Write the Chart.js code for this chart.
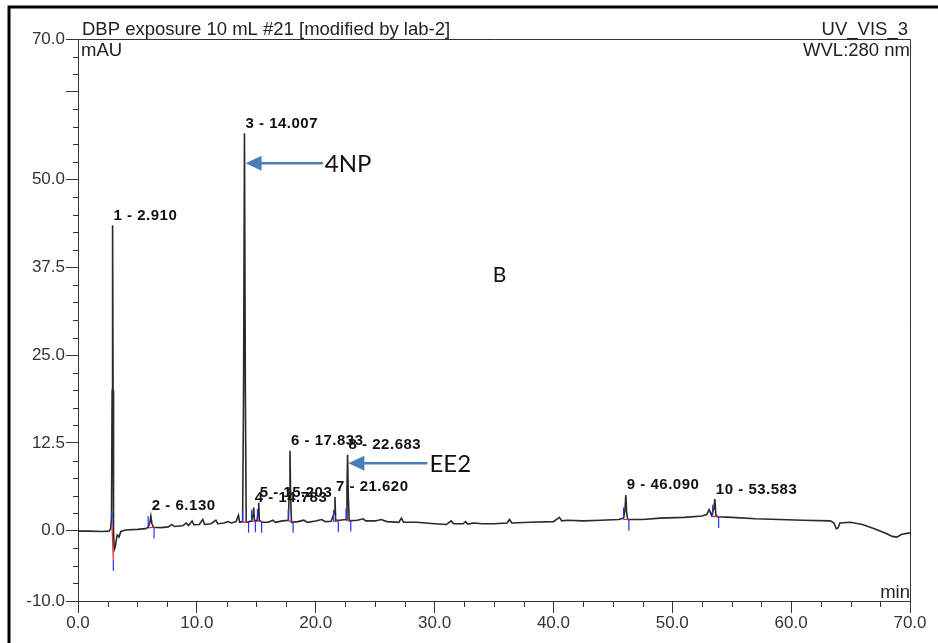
<!DOCTYPE html>
<html>
<head>
<meta charset="utf-8">
<script src="https://cdn.jsdelivr.net/npm/chart.js@4"></script>
<style>
  body { margin: 0; background: #fff; }
  canvas { display: block; }
</style>
</head>
<body>
<canvas id="chromatogram" width="938" height="643"></canvas>
<script>
// chromatogram trace (min, mAU)
const traceTimes = [
  0.0, 1.0, 2.0, 2.6, 2.75, 2.82, 2.87, 2.91, 2.95, 2.99, 3.05, 3.12, 3.2, 3.3, 3.45, 3.6, 4.0, 5.0, 5.7, 5.9,
  6.05, 6.13, 6.22, 6.35, 7.0, 7.6, 7.9, 8.1, 8.8, 9.1, 9.3, 9.6, 9.75, 10.2, 10.5, 10.65, 11.2, 11.6, 11.75, 12.3,
  12.6, 12.9, 13.3, 13.5, 13.6, 13.85, 13.93, 14.007, 14.08, 14.15, 14.4, 14.6, 14.72, 14.783, 14.84, 15.05, 15.15, 15.203, 15.26, 15.5,
  16.0, 16.4, 16.6, 17.2, 17.7, 17.78, 17.833, 17.89, 17.96, 18.5, 19.0, 19.3, 20.0, 20.5, 20.8, 21.3, 21.55, 21.62, 21.68, 22.0,
  22.55, 22.63, 22.683, 22.74, 22.82, 23.5, 24.0, 24.2, 25.0, 25.5, 26.0, 27.0, 27.2, 27.4, 28.5, 30.0, 31.0, 31.4, 31.6, 32.4,
  32.6, 32.8, 33.3, 34.0, 35.0, 36.1, 36.3, 36.5, 38.0, 40.0, 40.5, 40.7, 41.2, 42.5, 44.0, 45.5, 45.9, 46.02, 46.09, 46.16,
  46.25, 47.5, 49.0, 51.0, 52.5, 52.9, 53.1, 53.3, 53.5, 53.583, 53.66, 53.8, 55.0, 57.0, 59.0, 61.0, 63.3, 63.6, 63.8, 63.95,
  64.1, 65.0, 66.0, 67.0, 68.0, 68.5, 68.9, 69.3, 70.0
];
const traceMau = [
  -0.05, -0.05, -0.1, -0.05, 0.3, 2.0, 20, 43.5, 20, 0, -2.7, -2.4, -1.5, -0.6, -0.9, -0.1, 0.1, 0.2, 0.3, 0.5,
  1.2, 2.1, 1.0, 0.5, 0.45, 0.55, 0.9, 0.6, 0.7, 1.1, 0.75, 1.4, 0.85, 0.9, 1.6, 0.9, 1.0, 1.5, 1.0, 1.1,
  1.3, 1.1, 1.3, 2.2, 1.2, 1.3, 20, 56.6, 20, 1.2, 1.3, 1.4, 2.2, 3.3, 1.5, 1.4, 2.5, 4.0, 1.5, 1.2,
  1.2, 1.5, 1.2, 1.4, 1.5, 6, 11.4, 5, 1.2, 1.3, 1.5, 1.2, 1.4, 1.6, 1.3, 1.35, 2.5, 4.8, 1.5, 1.5,
  1.6, 6, 10.8, 5, 1.4, 1.5, 1.7, 1.4, 1.4, 1.6, 1.3, 1.2, 1.8, 1.2, 1.2, 1.0, 0.9, 1.4, 1.0, 1.0,
  1.3, 0.95, 1.1, 1.0, 1.0, 1.1, 1.6, 1.1, 1.2, 1.3, 1.9, 1.4, 1.5, 1.4, 1.5, 1.6, 1.8, 3, 5.1, 2.5,
  1.6, 1.6, 1.8, 1.9, 2.1, 2.3, 3.0, 2.2, 3.2, 4.5, 2.3, 2.0, 1.9, 1.7, 1.6, 1.5, 1.4, 1.1, 0.3, 0.4,
  1.1, 1.2, 0.9, 0.3, -0.4, -0.8, -0.9, -0.5, -0.3
];

// labelled peaks
const peakTimes = [2.910, 6.130, 14.007, 14.783, 15.203, 17.833, 21.620, 22.683, 46.090, 53.583];
const peakHeights = [43.5, 2.1, 56.6, 3.3, 4.0, 11.4, 4.8, 10.8, 5.1, 4.5];

// integration marks: start/end time and baseline level at each
const intStart = [2.86, 5.9, 13.85, 14.6, 15.1, 17.7, 21.5, 22.55, 45.9, 53.4];
const intStartBase = [0.9, 0.4, 1.2, 1.3, 1.4, 1.4, 1.3, 1.5, 1.6, 2.0];
const intEnd = [2.97, 6.4, 14.35, 14.92, 15.45, 18.1, 21.9, 22.95, 46.35, 53.9];
const intEndBase = [-4.1, 0.5, 1.3, 1.4, 1.3, 1.3, 1.4, 1.5, 1.6, 2.0];

// hand-added notes
const noteText = ['4NP', 'EE2'];
const noteFrom = [20.6, 29.4];
const noteTo = [14.1, 22.75];
const noteLevel = [52.3, 9.6];

const yTickValues = [-10, -7.5, -5, -2.5, 0, 2.5, 5, 7.5, 10, 12.5, 15, 17.5, 20, 22.5, 25, 27.5, 30, 32.5, 35, 37.5, 40, 42.5, 45, 47.5, 50, 52.5, 55, 57.5, 60, 62.5, 65, 67.5, 70];
const yLabelled = [-10, 0, 12.5, 25, 37.5, 50, 70];
const yMajor = [-10, 0, 12.5, 25, 37.5, 50, 62.5, 70];
const xTickValues = [0, 2.5, 5, 7.5, 10, 12.5, 15, 17.5, 20, 22.5, 25, 27.5, 30, 32.5, 35, 37.5, 40, 42.5, 45, 47.5, 50, 52.5, 55, 57.5, 60, 62.5, 65, 67.5, 70];

const FONT = "'Liberation Sans', Arial, sans-serif";
const AXIS = '#333';

const tracePoints = traceTimes.map((t, i) => ({ x: t, y: traceMau[i] }));

const bluePoints = [];
const redPoints = [];
intStart.forEach((t, i) => {
  bluePoints.push({ x: t, y: intStartBase[i] }, { x: t, y: intStartBase[i] + 1.7 }, { x: t, y: null });
  bluePoints.push({ x: intEnd[i], y: intEndBase[i] }, { x: intEnd[i], y: intEndBase[i] - 1.6 }, { x: intEnd[i], y: null });
  redPoints.push({ x: t, y: intStartBase[i] }, { x: intEnd[i], y: intEndBase[i] }, { x: intEnd[i], y: null });
});

const decorPlugin = {
  id: 'decor',
  afterDraw(chart) {
    const ctx = chart.ctx;
    const xs = chart.scales.x, ys = chart.scales.y;
    const area = chart.chartArea;
    ctx.save();

    // outer frame
    ctx.strokeStyle = '#000';
    ctx.lineWidth = 3;
    ctx.strokeRect(9, 7, 940, 650);

    // top and right frame of plot
    ctx.strokeStyle = AXIS;
    ctx.lineWidth = 1;
    ctx.beginPath();
    ctx.moveTo(area.left, area.top + 0.5);
    ctx.lineTo(area.right + 0.5, area.top + 0.5);
    ctx.lineTo(area.right + 0.5, area.bottom);
    ctx.stroke();

    // minor ticks
    ctx.beginPath();
    yTickValues.forEach(v => {
      if (yMajor.includes(v)) return;
      const py = Math.round(ys.getPixelForValue(v)) + 0.5;
      ctx.moveTo(area.left - 5, py);
      ctx.lineTo(area.left, py);
    });
    xTickValues.forEach(v => {
      if (v % 10 === 0) return;
      const px = Math.round(xs.getPixelForValue(v)) + 0.5;
      ctx.moveTo(px, area.bottom);
      ctx.lineTo(px, area.bottom + 6);
    });
    ctx.stroke();

    // header texts
    ctx.fillStyle = '#222';
    ctx.font = '18.5px ' + FONT;
    ctx.textBaseline = 'alphabetic';
    ctx.textAlign = 'left';
    ctx.fillText('DBP exposure 10 mL #21 [modified by lab-2]', 82, 35);
    ctx.fillText('mAU', 81, 56);
    ctx.textAlign = 'right';
    ctx.fillText('UV_VIS_3', 908, 35);
    ctx.fillText('WVL:280 nm', 910, 56);
    ctx.fillText('min', 910, 598);

    // peak labels
    ctx.textAlign = 'left';
    ctx.font = 'bold 15px ' + FONT;
    ctx.letterSpacing = '0.5px';
    ctx.fillStyle = '#111';
    peakTimes.forEach((t, i) => {
      const px = xs.getPixelForValue(t) + 1;
      const py = ys.getPixelForValue(peakHeights[i] + 0.8);
      ctx.fillText((i + 1) + ' - ' + t.toFixed(3), px, py);
    });
    ctx.letterSpacing = '0px';

    // arrows with notes
    ctx.strokeStyle = '#4a7ebb';
    ctx.fillStyle = '#4a7ebb';
    ctx.lineWidth = 2.5;
    noteText.forEach((txt, i) => {
      const x0 = xs.getPixelForValue(noteFrom[i]);
      const x1 = xs.getPixelForValue(noteTo[i]);
      const py = ys.getPixelForValue(noteLevel[i]);
      ctx.beginPath();
      ctx.moveTo(x0, py);
      ctx.lineTo(x1 + 14, py);
      ctx.stroke();
      ctx.beginPath();
      ctx.moveTo(x1, py);
      ctx.lineTo(x1 + 16, py - 7.5);
      ctx.lineTo(x1 + 16, py + 7.5);
      ctx.closePath();
      ctx.fill();
    });
    ctx.fillStyle = '#111';
    ctx.font = '24px Lato, sans-serif';
    ctx.textBaseline = 'middle';
    noteText.forEach((txt, i) => {
      ctx.fillText(txt, xs.getPixelForValue(noteFrom[i]) + 2, ys.getPixelForValue(noteLevel[i]) + 1);
    });
    ctx.font = '21px Lato, sans-serif';
    ctx.fillText('B', xs.getPixelForValue(34.9), ys.getPixelForValue(36.4));

    ctx.restore();
  }
};

new Chart(document.getElementById('chromatogram'), {
  type: 'line',
  data: {
    datasets: [
      {
        data: tracePoints,
        borderColor: '#2a2a2a',
        borderWidth: 1.6,
        pointRadius: 0,
        tension: 0,
        order: 2
      },
      {
        data: redPoints,
        borderColor: '#e8261c',
        borderWidth: 1.2,
        pointRadius: 0,
        spanGaps: false,
        order: 1
      },
      {
        data: bluePoints,
        borderColor: '#2233ee',
        borderWidth: 1.2,
        pointRadius: 0,
        spanGaps: false,
        order: 0
      }
    ]
  },
  options: {
    responsive: false,
    animation: false,
    events: [],
    layout: { padding: { left: 0, top: 39, right: 28, bottom: 0 } },
    plugins: { legend: { display: false }, tooltip: { enabled: false } },
    scales: {
      x: {
        type: 'linear',
        min: 0,
        max: 70,
        afterFit(scale) { scale.height = 42; },
        afterBuildTicks(scale) { scale.ticks = xTickValues.map(v => ({ value: v })); },
        border: { display: true, color: AXIS, width: 1 },
        grid: {
          drawOnChartArea: false,
          tickLength: 12,
          tickColor: ctx => (ctx.tick && ctx.tick.value % 10 === 0) ? AXIS : 'rgba(0,0,0,0)'
        },
        ticks: {
          autoSkip: false,
          maxRotation: 0,
          padding: 0,
          color: AXIS,
          font: { family: FONT, size: 17 },
          callback: v => (v % 10 === 0 ? v.toFixed(1) : '')
        }
      },
      y: {
        min: -10,
        max: 70,
        afterFit(scale) { scale.width = 78; },
        afterBuildTicks(scale) { scale.ticks = yTickValues.map(v => ({ value: v })); },
        border: { display: true, color: AXIS, width: 1 },
        grid: {
          drawOnChartArea: false,
          tickLength: 12,
          tickColor: ctx => (ctx.tick && yMajor.includes(ctx.tick.value)) ? AXIS : 'rgba(0,0,0,0)'
        },
        ticks: {
          autoSkip: false,
          padding: 1,
          color: AXIS,
          font: { family: FONT, size: 17 },
          callback: v => (yLabelled.includes(v) ? v.toFixed(1) : '')
        }
      }
    }
  },
  plugins: [decorPlugin]
});
</script>
</body>
</html>
